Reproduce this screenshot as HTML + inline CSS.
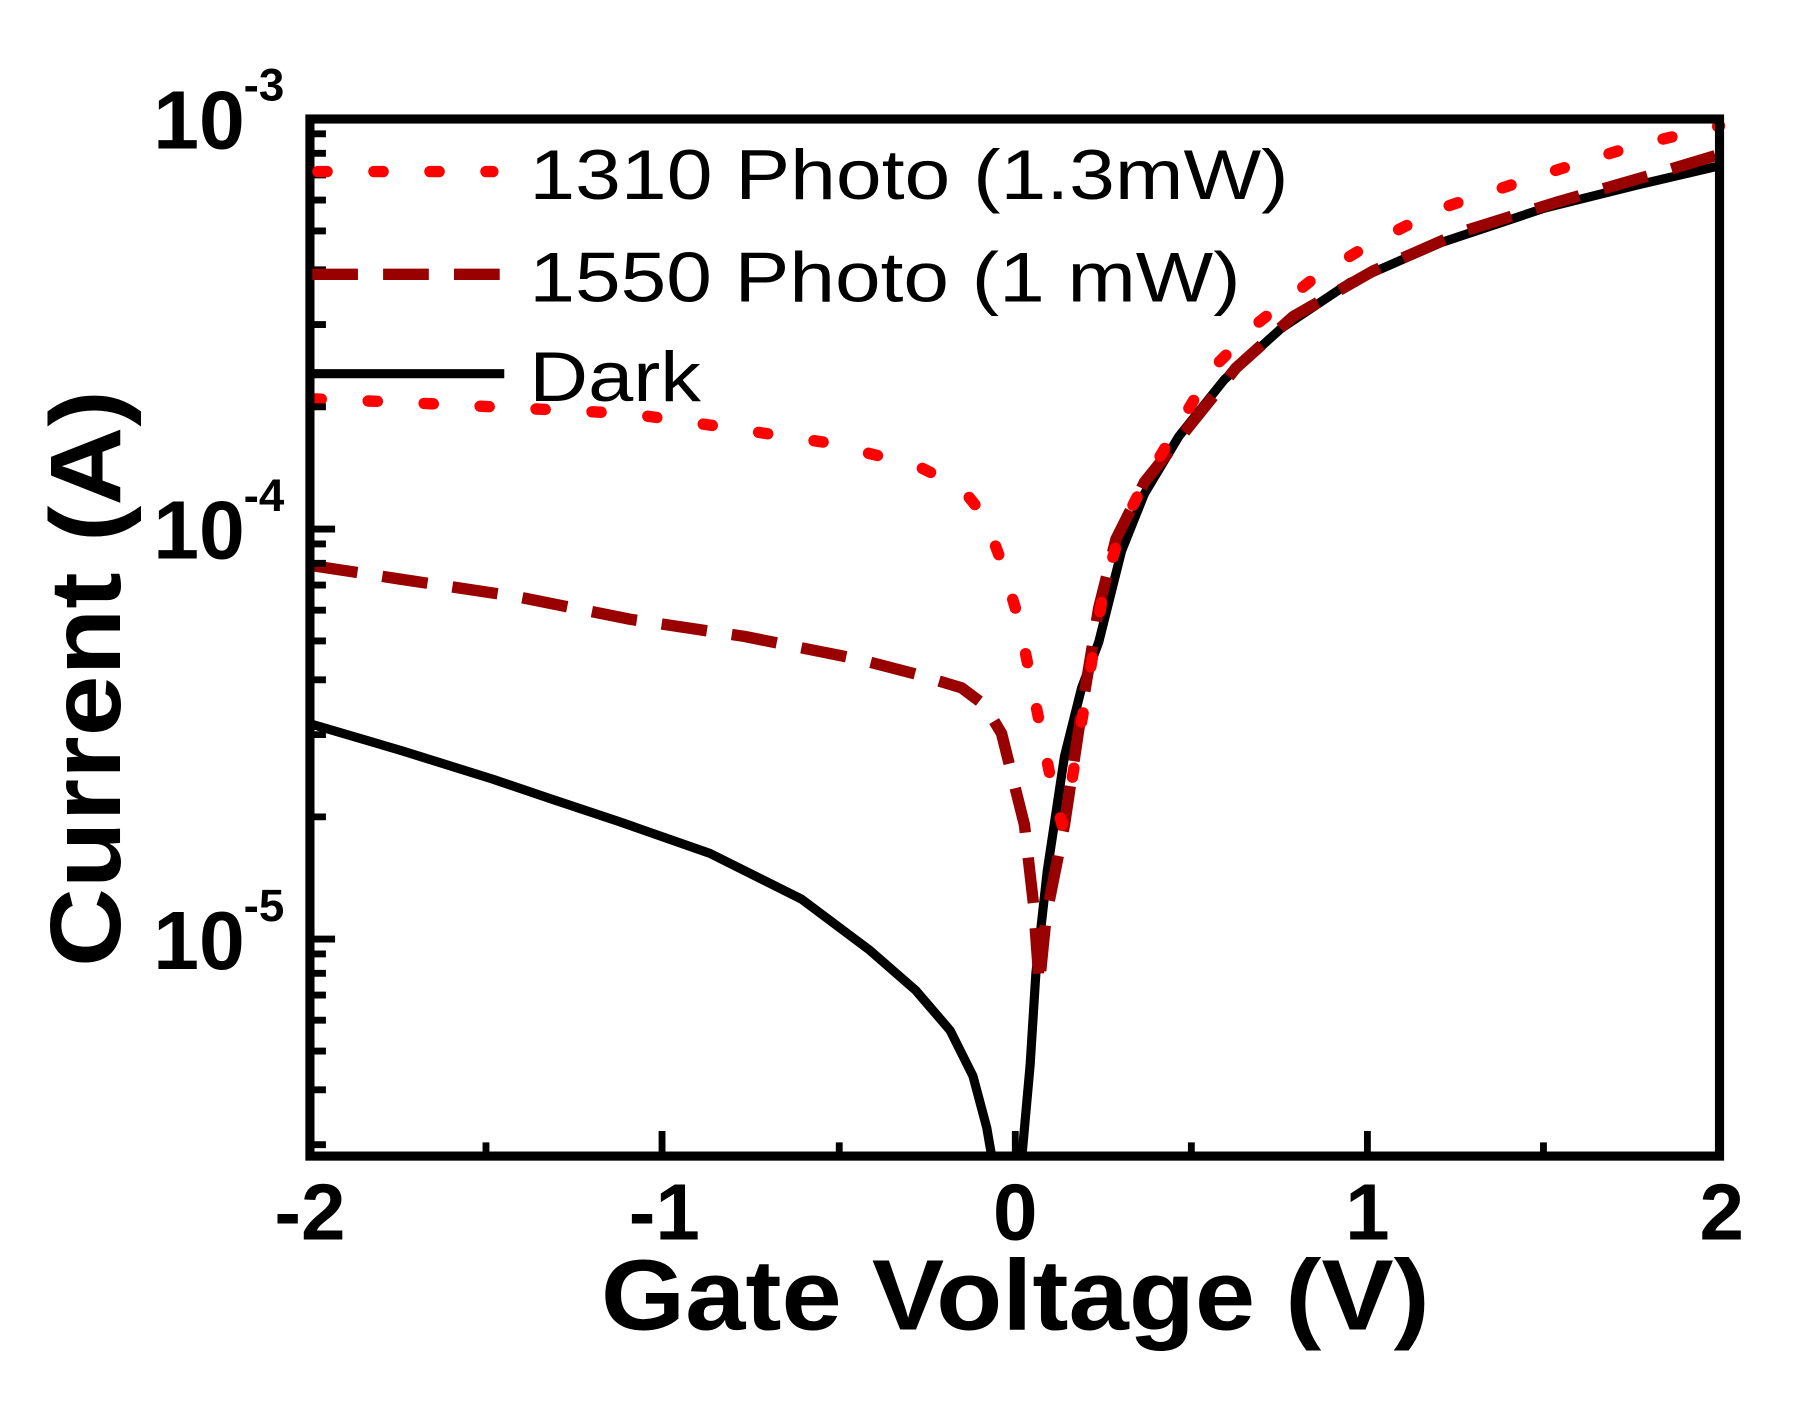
<!DOCTYPE html>
<html><head><style>html,body{margin:0;padding:0;background:#fff}</style></head><body>
<svg width="1796" height="1398" viewBox="-1.1 -2.2 1571 1224" preserveAspectRatio="none" xmlns="http://www.w3.org/2000/svg" font-family="Liberation Sans, sans-serif">
<rect x="-10" y="-10" width="1600" height="1250" fill="#fff"/>
<g fill="none" stroke-linejoin="round">
<polyline stroke="#000" stroke-width="8" points="272,632 350,655 430,680 480,697 540,717 620,745 700,785 760,830 800,865 830,900 850,940 862,985 866,1008"/>
<polyline stroke="#000" stroke-width="8" points="893,1008 900,930 905,850 915,760 930,660 945,600 960,560 980,480 1000,430 1030,380 1070,330 1120,285 1180,245 1260,210 1350,180 1430,160 1503,143"/>
<polyline stroke="#990000" stroke-width="10" stroke-dasharray="40,22" points="272,493 350,505 450,520 550,540 650,555 750,575 800,588 840,600 860,615 875,640 885,680 895,720 903,790 908,860 914,800 922,760 930,720 945,620 960,530 975,470 1000,420 1040,370 1080,320 1130,275 1200,235 1280,200 1360,175 1440,152 1503,133"/>
<polyline stroke="#ff0000" stroke-width="10" stroke-linecap="round" stroke-dasharray="8,41" points="272,347 350,350 450,355 550,360 620,370 720,385 800,405 840,425 860,450 875,490 890,540 900,590 910,640 920,690 928,720 935,690 945,630 955,570 965,510 980,460 1000,420 1030,370 1060,320 1100,280 1150,240 1200,210 1260,180 1350,150 1430,125 1503,108"/>
</g>
<rect x="270" y="102" width="1233" height="908" fill="none" stroke="#000" stroke-width="8"/>
<g stroke="#000" stroke-width="6">
<line x1="270" y1="461" x2="292" y2="461"/><line x1="270" y1="820" x2="292" y2="820"/>
</g>
<g stroke="#000" stroke-width="6">
<line x1="270" y1="115" x2="284" y2="115"/><line x1="270" y1="132" x2="284" y2="132"/><line x1="270" y1="151" x2="284" y2="151"/><line x1="270" y1="173" x2="284" y2="173"/><line x1="270" y1="200" x2="284" y2="200"/><line x1="270" y1="234" x2="284" y2="234"/><line x1="270" y1="282" x2="284" y2="282"/><line x1="270" y1="354" x2="284" y2="354"/>
<line x1="270" y1="474" x2="284" y2="474"/><line x1="270" y1="491" x2="284" y2="491"/><line x1="270" y1="510" x2="284" y2="510"/><line x1="270" y1="532" x2="284" y2="532"/><line x1="270" y1="559" x2="284" y2="559"/><line x1="270" y1="593" x2="284" y2="593"/><line x1="270" y1="641" x2="284" y2="641"/><line x1="270" y1="713" x2="284" y2="713"/>
<line x1="270" y1="833" x2="284" y2="833"/><line x1="270" y1="850" x2="284" y2="850"/><line x1="270" y1="869" x2="284" y2="869"/><line x1="270" y1="891" x2="284" y2="891"/><line x1="270" y1="918" x2="284" y2="918"/><line x1="270" y1="952" x2="284" y2="952"/><line x1="270" y1="1000" x2="284" y2="1000"/>
</g>
<g stroke="#000" stroke-width="6">
<line x1="578" y1="1010" x2="578" y2="988"/><line x1="887" y1="1010" x2="887" y2="988"/><line x1="1195" y1="1010" x2="1195" y2="988"/>
<line x1="424" y1="1010" x2="424" y2="998"/><line x1="733" y1="1010" x2="733" y2="998"/><line x1="1041" y1="1010" x2="1041" y2="998"/><line x1="1349" y1="1010" x2="1349" y2="998"/>
</g>
<g font-weight="bold" font-size="72" text-anchor="end">
<text x="213" y="128">10</text><text x="213" y="487">10</text><text x="213" y="846">10</text>
</g>
<g font-weight="bold" font-size="40">
<text x="212" y="86">-3</text><text x="212" y="445">-4</text><text x="212" y="804">-5</text>
</g>
<g font-weight="bold" font-size="70" text-anchor="middle">
<text x="270" y="1083">-2</text><text x="580" y="1083">-1</text><text x="887" y="1083">0</text><text x="1195" y="1083">1</text><text x="1505" y="1083">2</text>
</g>
<text x="887" y="1162" font-weight="bold" font-size="88" text-anchor="middle" textLength="725" lengthAdjust="spacingAndGlyphs">Gate Voltage (V)</text>
<text transform="translate(104,592) rotate(-90)" font-weight="bold" font-size="88" text-anchor="middle" textLength="505" lengthAdjust="spacingAndGlyphs">Current (A)</text>
<line x1="277" y1="148" x2="430" y2="148" stroke="#ff0000" stroke-width="10" stroke-linecap="round" stroke-dasharray="8,41"/>
<line x1="272" y1="238" x2="440" y2="238" stroke="#990000" stroke-width="10" stroke-dasharray="40,22"/>
<line x1="272" y1="325" x2="440" y2="325" stroke="#000" stroke-width="8"/>
<g font-size="62">
<text x="462" y="172" textLength="664" lengthAdjust="spacingAndGlyphs">1310 Photo (1.3mW)</text>
<text x="462" y="262" textLength="622" lengthAdjust="spacingAndGlyphs">1550 Photo (1 mW)</text>
<text x="462" y="349" textLength="150" lengthAdjust="spacingAndGlyphs">Dark</text>
</g>
</svg>
</body></html>
